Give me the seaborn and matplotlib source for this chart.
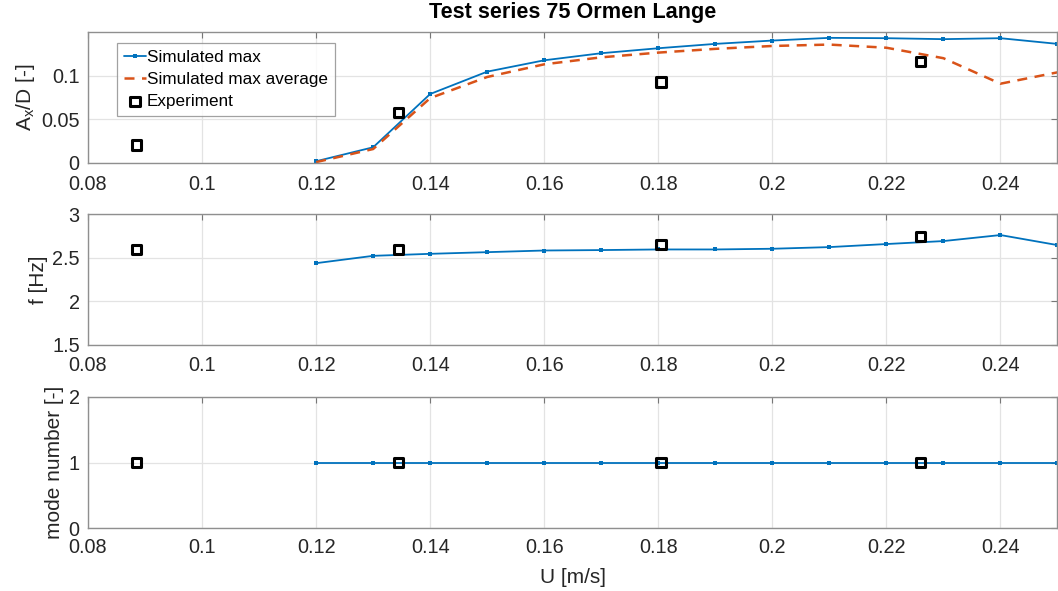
import numpy as np
import pandas as pd
import matplotlib
matplotlib.use("Agg")
import matplotlib.pyplot as plt
import seaborn as sns
from matplotlib.ticker import FuncFormatter

# ---- data ----
u_sim = [0.12, 0.13, 0.14, 0.15, 0.16, 0.17, 0.18, 0.19, 0.20, 0.21, 0.22, 0.23, 0.24, 0.25]
amp_max = [0.002, 0.018, 0.079, 0.1046, 0.1176, 0.1257, 0.1314, 0.1364, 0.1402, 0.1433, 0.1429, 0.1418, 0.1429, 0.1364]
amp_avg = [0.001, 0.016, 0.0743, 0.0985, 0.113, 0.121, 0.1264, 0.1307, 0.134, 0.1356, 0.132, 0.120, 0.0908, 0.1038]
f_sim = [2.437, 2.521, 2.544, 2.563, 2.582, 2.587, 2.594, 2.594, 2.602, 2.621, 2.656, 2.69, 2.759, 2.644]
mode_sim = [1, 1, 1, 1, 1, 1, 1, 1, 1, 1, 1, 1, 1, 1]

u_exp = [0.0885, 0.1345, 0.1805, 0.226]
amp_exp = [0.0207, 0.0575, 0.0927, 0.1164]
f_exp = [2.594, 2.59, 2.648, 2.74]
mode_exp = [1, 1, 1, 1]

x_ticks = [0.08, 0.10, 0.12, 0.14, 0.16, 0.18, 0.20, 0.22, 0.24]

sim = pd.DataFrame({"U": u_sim, "amax": amp_max, "aavg": amp_avg, "f": f_sim, "mode": mode_sim})
exp = pd.DataFrame({"U": u_exp, "amp": amp_exp, "f": f_exp, "mode": mode_exp})

BLUE = "#0072BD"
ORANGE = "#D95319"
TXT = "#262626"
SPINE = "#8f8f8f"

sns.set_theme(style="white")
plt.rcParams["font.family"] = ["Liberation Sans", "DejaVu Sans"]
plt.rcParams["mathtext.fontset"] = "custom"
plt.rcParams["mathtext.rm"] = "Liberation Sans"
plt.rcParams["mathtext.it"] = "Liberation Sans"

fig = plt.figure(figsize=(10.58, 5.91), dpi=100)
W, H = 1058, 591
left = 88 / W
width = (W - 88) / W - 0.0005
boxes = [(32, 163), (214, 345), (397, 528)]
axes = [fig.add_axes([left, 1 - b / H, width, (b - t) / H]) for t, b in boxes]

def gfmt(v, pos):
    return "%g" % round(v, 6)

def style(ax, yticks, ylim, ylabel, xpad):
    ax.set_xlim(0.08, 0.25)
    ax.set_ylim(*ylim)
    ax.set_xticks(x_ticks)
    ax.set_yticks(yticks)
    ax.xaxis.set_major_formatter(FuncFormatter(gfmt))
    ax.yaxis.set_major_formatter(FuncFormatter(gfmt))
    ax.grid(True, color="#e3e3e3", linewidth=0.9)
    ax.set_axisbelow(True)
    for sp in ax.spines.values():
        sp.set_color(SPINE)
        sp.set_linewidth(1.0)
        sp.set_visible(True)
    ax.tick_params(direction="in", length=4, width=0.8, color="#777777",
                   top=True, right=True, labelsize=14.3, labelcolor=TXT)
    ax.tick_params(axis="x", pad=xpad)
    ax.tick_params(axis="y", pad=6)
    ax.set_ylabel(ylabel, fontsize=15, color=TXT, labelpad=3)
    ax.set_xlabel("")

# --- top panel ---
ax = axes[0]
sns.lineplot(data=sim, x="U", y="amax", ax=ax, color=BLUE, linewidth=1.3,
             marker="s", markersize=3.5, markeredgewidth=0, label="Simulated max")
sns.lineplot(data=sim, x="U", y="aavg", ax=ax, color=ORANGE, linewidth=1.8,
             linestyle=(0, (4, 3)), label="Simulated max average")
sns.scatterplot(data=exp, x="U", y="amp", ax=ax, marker="s", s=45,
                facecolor="none", edgecolor="black", linewidth=2.2, label="Experiment", zorder=5)
style(ax, [0, 0.05, 0.1], (0, 0.15), r"A$_x$/D [-]", 9)
leg = ax.legend(loc="upper left", bbox_to_anchor=(0.0299, 0.916), fontsize=12.3, frameon=True,
                fancybox=False, edgecolor="#8a8a8a", borderpad=0.4, labelspacing=0.42,
                handlelength=1.3, handletextpad=0.05, borderaxespad=0)
leg.get_frame().set_linewidth(0.9)
for t in leg.get_texts():
    t.set_color("black")
ax.set_title("Test series 75 Ormen Lange", fontsize=15.6, fontweight="bold", color="black", pad=10)

# --- middle panel ---
ax = axes[1]
sns.lineplot(data=sim, x="U", y="f", ax=ax, color=BLUE, linewidth=1.3,
             marker="s", markersize=3.5, markeredgewidth=0, legend=False)
sns.scatterplot(data=exp, x="U", y="f", ax=ax, marker="s", s=45,
                facecolor="none", edgecolor="black", linewidth=2.2, legend=False, zorder=5)
style(ax, [1.5, 2, 2.5, 3], (1.5, 3), "f [Hz]", 8)

# --- bottom panel ---
ax = axes[2]
sns.lineplot(data=sim, x="U", y="mode", ax=ax, color=BLUE, linewidth=1.3,
             marker="s", markersize=3.5, markeredgewidth=0, legend=False)
sns.scatterplot(data=exp, x="U", y="mode", ax=ax, marker="s", s=45,
                facecolor="none", edgecolor="black", linewidth=2.2, legend=False, zorder=5)
style(ax, [0, 1, 2], (0, 2), "mode number [-]", 7)
ax.set_xlabel("U [m/s]", fontsize=15, color=TXT, labelpad=8)

fig.savefig("out.png", dpi=100)
